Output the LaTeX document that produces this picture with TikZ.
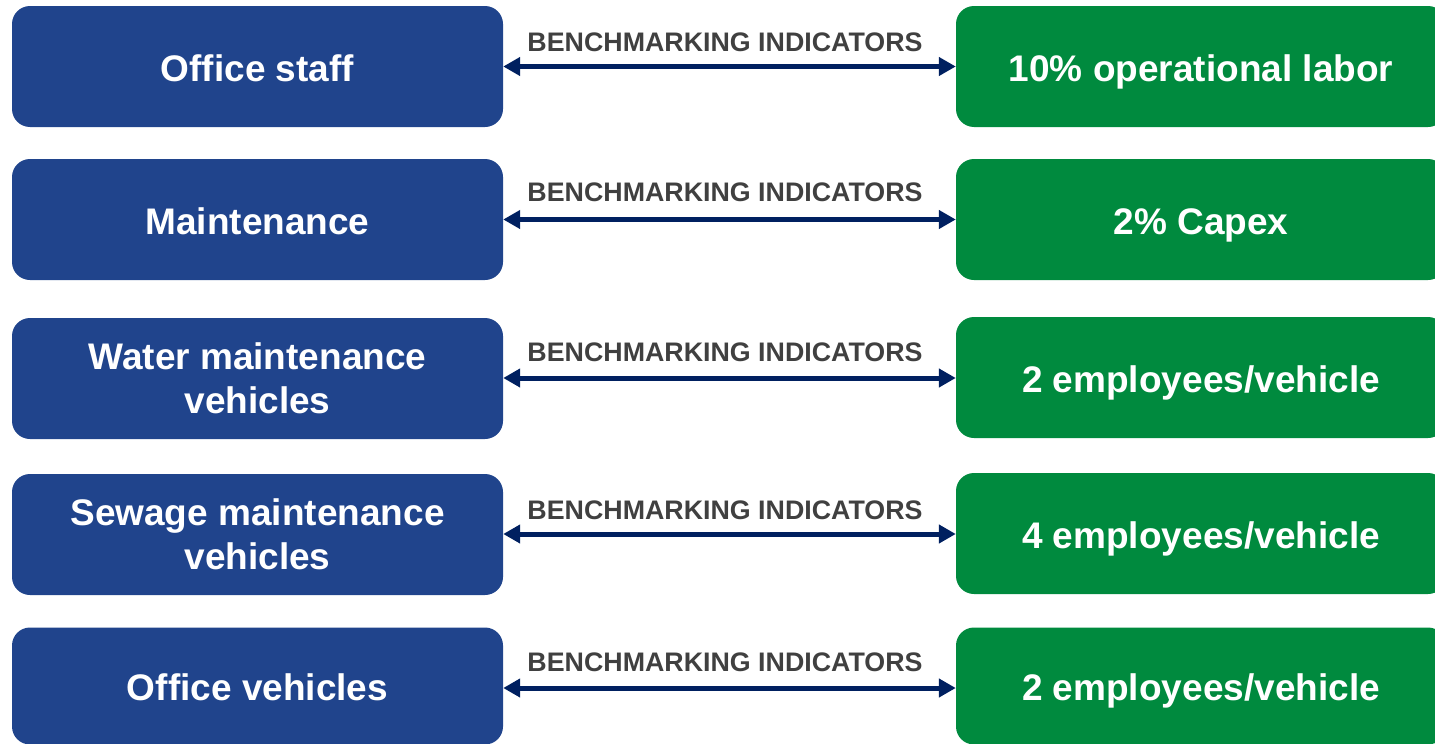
\documentclass[tikz,border=0pt]{standalone}
\usepackage{fontspec}
\setmainfont{Liberation Sans}
\usetikzlibrary{arrows.meta}
\definecolor{boxblue}{RGB}{32,68,140}
\definecolor{boxgreen}{RGB}{0,138,62}
\definecolor{arrownavy}{RGB}{0,32,96}
\definecolor{labelgray}{RGB}{64,64,64}
\tikzset{
  base/.style={rounded corners=18pt, inner sep=0pt, minimum height=121pt, text=white, align=center,
    font=\fontsize{37}{44}\selectfont\bfseries},
  oneline/.style={text height=33pt, text depth=3.5pt},
  leftbox/.style={base, fill=boxblue, minimum width=491pt},
  rightbox/.style={base, fill=boxgreen, minimum width=490pt},
  conn/.style={draw=arrownavy, line width=5pt, {Triangle[length=17pt,width=18pt]}-{Triangle[length=17pt,width=18pt]}},
  bench/.style={text=labelgray, inner sep=0pt, font=\fontsize{26.8}{30}\selectfont\bfseries}
}
\begin{document}
\begin{tikzpicture}[x=1pt,y=-1pt]
\useasboundingbox (0,0) rectangle (1435,744);
\begin{scope}
\clip (0,0) rectangle (1435,744);
\node[leftbox, oneline] (b1) at (257.5,66.5) {Office staff};
\node[leftbox, oneline] (b2) at (257.5,219.5) {Maintenance};
\node[leftbox] (b3) at (257.5,378.5) {Water maintenance\\vehicles};
\node[leftbox] (b4) at (257.5,534.5) {Sewage maintenance\\vehicles};
\node[leftbox, oneline, minimum height=117pt] (b5) at (257.5,686) {Office vehicles};
\node[rightbox, oneline] (g1) at (1201,66.5) {10\% operational labor};
\node[rightbox, oneline] (g2) at (1201,219.5) {2\% Capex};
\node[rightbox, oneline] (g3) at (1201,377.5) {2 employees/vehicle};
\node[rightbox, oneline] (g4) at (1201,533.5) {4 employees/vehicle};
\node[rightbox, oneline, minimum height=117pt] (g5) at (1201,686) {2 employees/vehicle};
\end{scope}
\draw[conn] (b1.east) -- (g1.west);
\draw[conn] (b2.east) -- (g2.west);
\draw[conn] (b3.east |- 0,378) -- (g3.west |- 0,378);
\draw[conn] (b4.east |- 0,534) -- (g4.west |- 0,534);
\draw[conn] (b5.east |- 0,688) -- (g5.west |- 0,688);
\node[bench] (l1) at (725,42) {BENCHMARKING INDICATORS};
\node[bench] (l2) at (725,192) {BENCHMARKING INDICATORS};
\node[bench] (l3) at (725,352) {BENCHMARKING INDICATORS};
\node[bench] (l4) at (725,510) {BENCHMARKING INDICATORS};
\node[bench] (l5) at (725,662) {BENCHMARKING INDICATORS};
\end{tikzpicture}
\end{document}
